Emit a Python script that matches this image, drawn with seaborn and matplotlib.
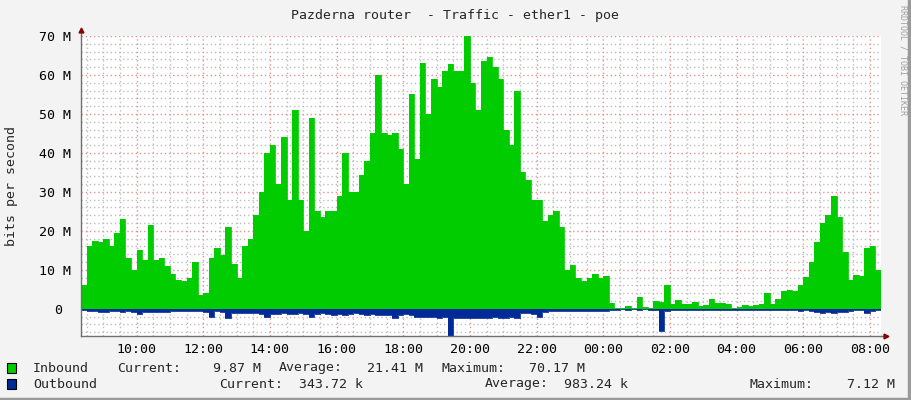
import numpy as np
import pandas as pd
import matplotlib
matplotlib.use("Agg")
import matplotlib.pyplot as plt
import matplotlib.dates as mdates
from matplotlib.ticker import MultipleLocator, FixedLocator, FixedFormatter
from matplotlib.patches import Rectangle
from matplotlib.lines import Line2D
import seaborn as sns

# 10 minute samples starting 08:20, values in Mbit/s
inbound = [
    6, 16, 17.5, 17, 18, 16, 19.5, 23, 13, 10,
    15, 12.5, 21.5, 12.5, 13, 11, 9, 7.5, 7, 8,
    12, 3.5, 4, 13, 15.5, 13.8, 21, 11.5, 8, 16,
    18, 24, 30, 40, 42, 32, 44, 28, 51, 28,
    20, 49, 25, 23.5, 25, 25, 29, 40, 30, 30,
    34.2, 38, 45, 60, 45, 44.5, 45, 41, 32, 55,
    38.5, 63, 50, 59, 57, 61, 62.7, 61, 61, 70.17,
    58, 51, 63.7, 64.5, 62, 59, 46, 42, 56, 35,
    33, 28, 28, 22.5, 24, 25, 21, 10, 11.3, 8,
    7, 8, 9, 8, 8.3, 1.5, 0.2, 0.3, 0.6, 0.1,
    3, 0.5, 0.2, 2, 1.8, 6, 1.2, 2.2, 1.2, 1.3,
    1.8, 0.8, 1.0, 2.4, 1.5, 1.5, 1.2, 0.3, 0.4, 0.9,
    0.8, 1.0, 1.3, 4, 1.2, 2.6, 4.5, 4.8, 4.5, 6,
    8.1, 12, 17, 22, 24, 29, 23.5, 14.5, 7.5, 8.6,
    8.3, 15.5, 16, 9.87,
]
outbound = [
    0.3, 0.6, 0.6, 0.8, 0.8, 0.7, 0.7, 0.8, 0.6, 0.8,
    1.3, 0.8, 0.9, 0.9, 0.8, 0.9, 0.7, 0.6, 0.7, 0.7,
    0.6, 0.5, 0.8, 2.0, 0.7, 0.9, 2.5, 1.0, 1.0, 1.1,
    1.2, 1.2, 1.3, 2.0, 1.4, 1.3, 1.2, 1.3, 1.4, 1.2,
    1.3, 2.1, 1.3, 1.2, 1.4, 1.5, 1.3, 1.6, 1.3, 1.2,
    1.4, 1.5, 1.3, 1.6, 1.7, 1.6, 2.4, 1.5, 1.4, 1.6,
    2.0, 2.1, 2.0, 2.1, 2.3, 2.2, 7.12, 2.3, 2.5, 2.3,
    2.4, 2.3, 2.4, 2.5, 2.2, 2.3, 2.4, 2.2, 2.5, 1.2,
    1.1, 1.3, 2.1, 0.8, 0.7, 0.7, 0.7, 0.6, 0.5, 0.6,
    0.6, 0.7, 0.5, 0.5, 0.6, 0.2, 0.3, 0.1, 0.2, 0.1,
    0.3, 0.1, 0.2, 0.2, 5.8, 0.6, 0.3, 0.2, 0.3, 0.2,
    0.3, 0.2, 0.4, 0.3, 0.2, 0.2, 0.2, 0.2, 0.2, 0.2,
    0.2, 0.3, 0.2, 0.2, 0.3, 0.2, 0.2, 0.2, 0.3, 0.5,
    0.3, 0.6, 0.8, 1.2, 0.9, 1.0, 0.9, 0.8, 0.5, 0.4,
    0.4, 1.0, 0.6, 0.34,
]
y_labels = ["0 ", "10 M", "20 M", "30 M", "40 M", "50 M", "60 M", "70 M"]

times = pd.date_range("2024-05-06 08:20", periods=len(inbound), freq="10min")
t_ext = times.append(pd.DatetimeIndex([times[-1] + pd.Timedelta("10min")]))
df = pd.DataFrame({
    "time": t_ext,
    "inbound": np.append(inbound, inbound[-1]) * 1e6,
    "outbound": -np.append(outbound, outbound[-1]) * 1e6,
})

GREEN = "#00CC00"
BLUE = "#002A97"
MONO = "DejaVu Sans Mono"

sns.set_style("white")
plt.rcParams["font.family"] = [MONO]

fig = plt.figure(figsize=(9.11, 4.0), dpi=100, facecolor="#F3F3F3")
ax = fig.add_axes([81 / 911, 64 / 400, 800 / 911, 300 / 400])
ax.set_facecolor("white")

ax.fill_between(df["time"], 0, df["inbound"], step="post", color=GREEN, lw=0, zorder=2)
ax.fill_between(df["time"], 0, df["outbound"], step="post", color=BLUE, lw=0, zorder=2)
sns.lineplot(data=df, x="time", y="inbound", drawstyle="steps-post", color=GREEN,
             lw=0.6, ax=ax, zorder=2)
sns.lineplot(data=df, x="time", y="outbound", drawstyle="steps-post", color=BLUE,
             lw=0.6, ax=ax, zorder=2)

ax.set_xlim(t_ext[0], t_ext[0] + pd.Timedelta("24h"))
ax.set_ylim(-7e6, 70e6)

ax.xaxis.set_major_locator(mdates.HourLocator(byhour=range(0, 24, 2)))
ax.xaxis.set_major_formatter(mdates.DateFormatter("%H:%M"))
ax.xaxis.set_minor_locator(mdates.MinuteLocator(byminute=[0, 30]))
ax.yaxis.set_major_locator(FixedLocator(np.arange(0, 71, 10) * 1e6))
ax.yaxis.set_major_formatter(FixedFormatter(y_labels))
ax.yaxis.set_minor_locator(MultipleLocator(2e6))

ax.grid(which="minor", color="#BDBDBD", linestyle=(0, (1, 2)), lw=1.0, zorder=1)
ax.grid(which="major", color="#E39090", linestyle=(0, (1, 2)), lw=1.0, zorder=1)
ax.set_axisbelow(True)

ax.tick_params(axis="both", which="both", length=0, labelsize=9.5, colors="#000000")
ax.tick_params(axis="x", pad=5)
ax.tick_params(axis="y", pad=7)
ax.set_xlabel("")
ax.set_ylabel("")

for s in ["top", "right"]:
    ax.spines[s].set_visible(False)
for s in ["left", "bottom"]:
    ax.spines[s].set_color("#707070")
    ax.spines[s].set_linewidth(1)
    ax.spines[s].set_zorder(3)

# axis arrows
ax.add_artist(Line2D([0, 0], [1, 1.02], transform=ax.transAxes, color="#707070",
                     lw=1, clip_on=False))
ax.plot([0], [1.02], marker="^", color="#8B0000", markersize=3.5,
        transform=ax.transAxes, clip_on=False)
ax.add_artist(Line2D([1, 1.006], [0, 0], transform=ax.transAxes, color="#707070",
                     lw=1, clip_on=False))
ax.plot([1.006], [0], marker=">", color="#8B0000", markersize=3.5,
        transform=ax.transAxes, clip_on=False)

fig.text(455 / 911, 1 - 15 / 400, "Pazderna router  - Traffic - ether1 - poe",
         ha="center", va="center", fontsize=9.5, family=MONO)
fig.text(12 / 911, 1 - 186 / 400, "bits per second", rotation=90,
         ha="center", va="center", fontsize=9.5, family=MONO)
fig.text(903 / 911, 1 - 5 / 400, "RRDTOOL / TOBI OETIKER", rotation=-90,
         ha="center", va="top", fontsize=6, family=MONO, color="#A0A0A0")

# legend
def swatch(y, color):
    fig.add_artist(Rectangle((7 / 911, 1 - (y + 5) / 400), 9 / 911, 10 / 400,
                             transform=fig.transFigure, facecolor=color,
                             edgecolor="black", lw=0.8))

def row(y, items):
    for x, txt in items:
        fig.text(x / 911, 1 - y / 400, txt, ha="left", va="center",
                 fontsize=9.5, family=MONO)

swatch(368, GREEN)
swatch(384, BLUE)
row(368, [(33, "Inbound"), (117, "Current:"), (213, "9.87 M"), (279, "Average:"),
          (367, "21.41 M"), (441, "Maximum:"), (529, "70.17 M")])
row(384, [(33, "Outbound"), (219, "Current:"), (299, "343.72 k"), (485, "Average:"),
          (564, "983.24 k"), (750, "Maximum:"), (847, "7.12 M")])

# canvas frame
fig.add_artist(Line2D([0, 1], [0.002, 0.002], transform=fig.transFigure,
                      color="#9A9A9A", lw=2.5))
fig.add_artist(Line2D([0.998, 0.998], [0, 1], transform=fig.transFigure,
                      color="#9A9A9A", lw=2.5))

fig.savefig("out.png", dpi=100, facecolor=fig.get_facecolor())
